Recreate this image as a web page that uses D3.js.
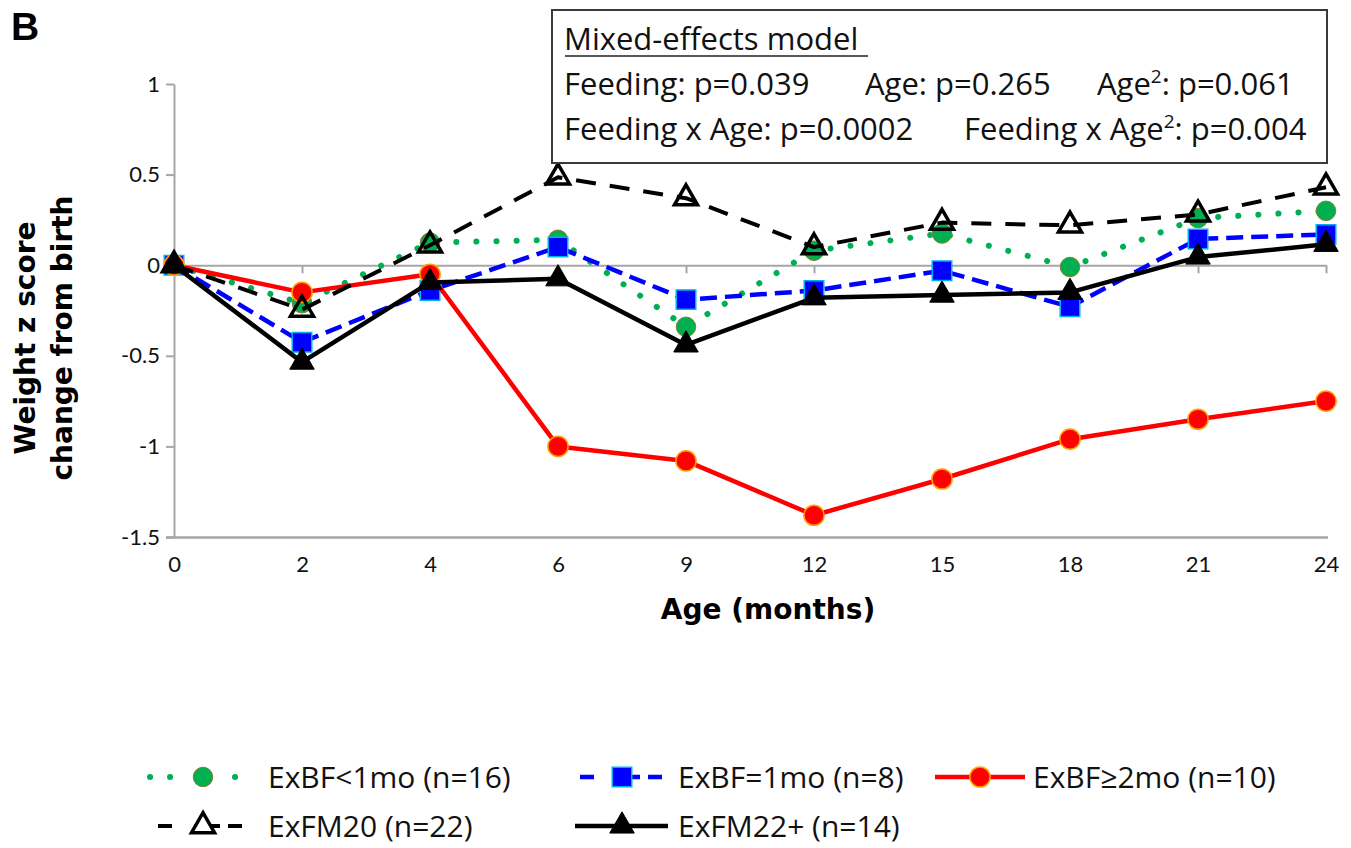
<!DOCTYPE html>
<html>
<head>
<meta charset="utf-8">
<script src="https://cdn.jsdelivr.net/npm/d3@7"></script>
<style>
  html, body { margin: 0; padding: 0; background: #fff; }
  svg { display: block; }
</style>
</head>
<body>
<svg id="chart" width="1351" height="848"></svg>
<script>
// Age categories (months) and tick labels
const ages = ["0", "2", "4", "6", "9", "12", "15", "18", "21", "24"];
const yTicks = [-1.5, -1, -0.5, 0, 0.5, 1];

// Weight z score change from birth, by feeding group
const exbfLt1 = [0, -0.21, 0.125, 0.14, -0.34, 0.08, 0.175, -0.01, 0.26, 0.30];
const exbfEq1 = [0, -0.425, -0.14, 0.10, -0.19, -0.14, -0.03, -0.23, 0.145, 0.17];
const exbfGe2 = [0, -0.15, -0.05, -1.00, -1.08, -1.38, -1.18, -0.96, -0.85, -0.75];
const exfm20  = [0, -0.245, 0.11, 0.485, 0.37, 0.10, 0.235, 0.22, 0.28, 0.43];
const exfm22  = [0, -0.535, -0.095, -0.075, -0.44, -0.18, -0.165, -0.15, 0.045, 0.115];

const seriesNames = ["ExBF<1mo (n=16)", "ExBF=1mo (n=8)", "ExBF≥2mo (n=10)", "ExFM20 (n=22)", "ExFM22+ (n=14)"];

const modelTitle = "Mixed-effects model";
const modelRow1 = ["Feeding: p=0.039", "Age: p=0.265", ["Age", "2", ": p=0.061"]];
const modelRow2 = ["Feeding x Age: p=0.0002", ["Feeding x Age", "2", ": p=0.004"]];

const styles = [
  { values: exbfLt1, color: "#00b050", width: 6, dash: "0.1 20", cap: "round", symbol: d3.symbolCircle, size: 300, fill: "#00b050", stroke: "#8a7d2e", sw: 1 },
  { values: exbfEq1, color: "#0000ff", width: 4.5, dash: "17 8", cap: "butt", symbol: d3.symbolSquare, size: 380, fill: "#0000ff", stroke: "#00b0f0", sw: 1.5 },
  { values: exbfGe2, color: "#ff0000", width: 4.5, dash: null, cap: "butt", symbol: d3.symbolCircle, size: 320, fill: "#ff0000", stroke: "#ffa200", sw: 1.5 },
  { values: exfm20,  color: "#000000", width: 4, dash: "20 14", cap: "butt", symbol: d3.symbolTriangle, size: 230, fill: "none", stroke: "#000000", sw: 3.5 },
  { values: exfm22,  color: "#000000", width: 4.5, dash: null, cap: "butt", symbol: d3.symbolTriangle, size: 260, fill: "#000000", stroke: "#000000", sw: 1 }
];

const svg = d3.select("#chart");
const axisGray = "#a6a6a6";
const tickFont = "Lato, 'Open Sans', sans-serif";
const textFont = "'Open Sans', Lato, sans-serif";
const boldFont = "'DejaVu Sans', Verdana, sans-serif";

const x = d3.scalePoint().domain(ages).range([174, 1326]);
const y = d3.scaleLinear().domain([-1.5, 1]).range([537, 84]);

// Panel letter
svg.append("text").attr("x", 11).attr("y", 40)
  .attr("font-family", "'Liberation Sans', Arial, sans-serif").attr("font-weight", "bold")
  .attr("font-size", 39).text("B");

// Y axis
const yAxis = svg.append("g").attr("transform", `translate(${x(ages[0])},0)`)
  .call(d3.axisLeft(y).tickValues(yTicks).tickSize(8).tickSizeOuter(0).tickPadding(6)
    .tickFormat(d => d === 0 ? "0" : String(d)));
yAxis.select(".domain").attr("stroke", axisGray).attr("stroke-width", 2);
yAxis.selectAll(".tick line").attr("stroke", axisGray).attr("stroke-width", 2);
yAxis.selectAll(".tick text").attr("font-family", tickFont).attr("font-size", 22).attr("fill", "#111");

// Category axis crossing at zero (ticks only)
const zeroAxis = svg.append("g").attr("transform", `translate(0,${y(0)})`)
  .call(d3.axisBottom(x).tickSize(8).tickSizeOuter(0).tickFormat(""));
zeroAxis.select(".domain").attr("stroke", axisGray).attr("stroke-width", 2);
zeroAxis.selectAll(".tick line").attr("stroke", axisGray).attr("stroke-width", 2);

// Bottom line with category labels
const bottomAxis = svg.append("g").attr("transform", `translate(0,${y(-1.5)})`)
  .call(d3.axisBottom(x).tickSize(0).tickSizeOuter(0).tickPadding(19));
bottomAxis.select(".domain").attr("stroke", axisGray).attr("stroke-width", 2.5)
  .attr("d", `M${x(ages[0]) - 8},0.5H${x(ages[ages.length - 1]) + 2}`);
bottomAxis.selectAll(".tick text").attr("font-family", tickFont).attr("font-size", 22).attr("fill", "#111");

// Axis titles
svg.append("text").attr("x", 768).attr("y", 619).attr("text-anchor", "middle")
  .attr("font-family", boldFont).attr("font-weight", "bold").attr("font-size", 28)
  .text("Age (months)");
const yTitle = svg.append("text").attr("transform", "translate(0,338) rotate(-90)")
  .attr("text-anchor", "middle").attr("font-family", boldFont).attr("font-weight", "bold").attr("font-size", 28);
yTitle.append("tspan").attr("x", 0).attr("y", 35).text("Weight z score");
yTitle.append("tspan").attr("x", 0).attr("y", 72).text("change from birth");

// Series: line then markers, in drawing order
const line = d3.line().x((d, i) => x(ages[i])).y(d => y(d));
styles.forEach(s => {
  const g = svg.append("g");
  g.append("path").datum(s.values).attr("d", line).attr("fill", "none")
    .attr("stroke", s.color).attr("stroke-width", s.width)
    .attr("stroke-dasharray", s.dash).attr("stroke-linecap", s.cap).attr("stroke-linejoin", "round");
  g.selectAll("path.mk").data(s.values).join("path").attr("class", "mk")
    .attr("transform", (d, i) => `translate(${x(ages[i])},${y(d)})`)
    .attr("d", d3.symbol(s.symbol, s.size)())
    .attr("fill", s.fill).attr("stroke", s.stroke).attr("stroke-width", s.sw)
    .attr("stroke-linejoin", "miter");
});

// Statistics box
const box = svg.append("g");
box.append("rect").attr("x", 552).attr("y", 10).attr("width", 775).attr("height", 153)
  .attr("fill", "#fff").attr("stroke", "#3a3a3a").attr("stroke-width", 2);
const tx = (g, xx, yy, content) => {
  const t = g.append("text").attr("x", xx).attr("y", yy).attr("font-family", textFont)
    .attr("font-size", 31).attr("fill", "#111");
  if (Array.isArray(content)) {
    t.append("tspan").text(content[0]);
    t.append("tspan").attr("font-size", 19).attr("dy", -12).text(content[1]);
    t.append("tspan").attr("dy", 12).text(content[2]);
  } else {
    t.text(content);
  }
  return t;
};
tx(box, 564, 50, modelTitle);
box.append("line").attr("x1", 565).attr("x2", 868).attr("y1", 56).attr("y2", 56)
  .attr("stroke", "#222").attr("stroke-width", 1.5);
tx(box, 564, 95, modelRow1[0]);
tx(box, 865, 95, modelRow1[1]);
tx(box, 1097, 95, modelRow1[2]);
tx(box, 564, 140, modelRow2[0]);
tx(box, 964, 140, modelRow2[1]);

// Legend
const legendPos = [
  { x0: 150, x1: 240, cx: 203, tx: 268, y: 777 },
  { x0: 580, x1: 668, cx: 622, tx: 678, y: 777 },
  { x0: 935, x1: 1025, cx: 980, tx: 1033, y: 777 },
  { x0: 158, x1: 252, cx: 203, tx: 268, y: 826 },
  { x0: 575, x1: 668, cx: 622, tx: 678, y: 826 }
];
const legendDash = ["0.1 19.9 0.1 64.9 0.1 100", "14 22 24 8", null, "14 24 24 8", null];
styles.forEach((s, i) => {
  const p = legendPos[i];
  const g = svg.append("g");
  g.append("line").attr("x1", p.x0).attr("x2", p.x1).attr("y1", p.y).attr("y2", p.y)
    .attr("stroke", s.color).attr("stroke-width", s.width)
    .attr("stroke-dasharray", legendDash[i]).attr("stroke-linecap", s.cap);
  g.append("path").attr("transform", `translate(${p.cx},${p.y})`)
    .attr("d", d3.symbol(s.symbol, s.size)())
    .attr("fill", s.fill === "none" ? "#fff" : s.fill).attr("stroke", s.stroke).attr("stroke-width", s.sw);
  g.append("text").attr("x", p.tx).attr("y", p.y + 11).attr("font-family", textFont)
    .attr("font-size", 30).attr("fill", "#111").text(seriesNames[i]);
});
</script>
</body>
</html>
